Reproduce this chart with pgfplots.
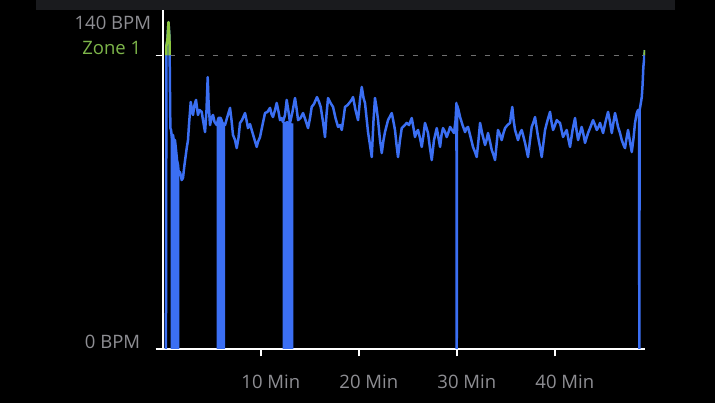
\documentclass[border=0pt]{standalone}
\usepackage{pgfplots}
\pgfplotsset{compat=1.18}
\usepackage{fontspec}
\setmainfont{Open Sans}
\definecolor{hrblue}{HTML}{3B6FF3}
\definecolor{hrgreen}{HTML}{8CC63F}
\definecolor{zonegreen}{HTML}{7DB54A}
\definecolor{txtgray}{HTML}{8E8E93}
\definecolor{topbar}{HTML}{1A1B1E}
\definecolor{dashgray}{HTML}{707070}
\begin{document}
\begin{tikzpicture}[x=1pt,y=1pt]
\fill[black] (0,0) rectangle (715,403);
\fill[topbar] (36,393) rectangle (675,403);
\begin{axis}[
  at={(163pt,54pt)}, anchor=south west,
  scale only axis, width=482.2pt, height=339pt,
  xmin=0, xmax=49.2, ymin=0, ymax=144.26,
  axis x line*=bottom, axis y line*=left,
  axis line style={white, line width=1.5pt, -},
  xtick={10,20,30,40}, xticklabels={},
  ytick={0,125}, yticklabels={},
  tick style={white, line width=1.5pt},
  tick align=outside, major tick length=7.5pt,
]
% Zone 1 reference line
\addplot[dashgray, line width=1.3pt, dash pattern=on 5pt off 9.3pt] coordinates {(0.75,125) (49.1,125)};
% sensor drop-out bands
\addplot[fill=hrblue, draw=none] coordinates {(0.79,0) (0.79,93.6) (0.82,93.2) (0.92,89.8) (1.02,91.1) (1.12,88.1) (1.22,88.9) (1.33,84.7) (1.43,80.4) (1.53,78.3) (1.63,74.0) (1.66,74.2) (1.66,0)} -- cycle;
\addplot[fill=hrblue, draw=none] coordinates {(5.48,0) (5.48,95.3) (5.66,98.3) (5.89,98.3) (6.07,96.2) (6.33,95.3) (6.33,0)} -- cycle;
\addplot[fill=hrblue, draw=none] coordinates {(12.21,0) (12.21,96.8) (12.24,96.6) (12.45,96.6) (12.62,97.0) (12.81,96.9) (12.96,96.2) (13.21,96.0) (13.30,96.0) (13.30,0)} -- cycle;
% heart rate
\addplot[hrblue, line width=2.5pt, line join=round] table {
0.30 0
0.35 129.0
0.45 131.5
0.56 139.1
0.66 132.3
0.75 94.0
0.82 93.2
0.92 89.8
1.02 91.1
1.12 88.1
1.22 88.9
1.33 84.7
1.43 80.4
1.53 78.3
1.63 74.0
1.73 75.3
1.91 71.9
2.04 72.8
2.19 78.3
2.42 85.5
2.55 88.9
2.65 95.3
2.83 105.1
2.96 101.7
3.06 99.6
3.21 103.8
3.37 106.0
3.47 102.6
3.57 99.6
3.72 101.7
3.95 100.9
4.08 97.4
4.29 92.3
4.44 101.7
4.56 115.7
4.66 103.8
4.80 95.3
4.95 98.3
5.10 99.6
5.26 96.6
5.48 95.3
5.66 98.3
5.89 98.3
6.07 96.2
6.33 95.3
6.53 98.3
6.84 102.6
6.99 97.4
7.14 91.1
7.35 88.9
7.52 85.5
7.70 89.8
7.86 96.2
8.06 97.4
8.37 100.4
8.52 97.4
8.67 94.0
8.88 95.7
9.05 93.2
9.29 89.8
9.56 86.0
9.69 88.1
9.90 90.2
10.15 95.3
10.41 100.4
10.66 100.9
10.92 102.6
11.07 100.0
11.22 98.7
11.43 101.7
11.60 104.7
11.79 100.9
11.94 97.4
12.09 98.3
12.24 96.6
12.45 99.6
12.62 106.0
12.81 100.9
12.96 96.2
13.21 100.9
13.47 106.8
13.62 102.6
13.78 97.4
14.03 98.3
14.29 100.4
14.54 97.4
14.80 94.0
15.00 98.3
15.17 103.0
15.41 104.3
15.71 107.2
15.92 105.1
16.09 103.0
16.33 96.6
16.53 90.2
16.68 99.6
16.84 106.8
17.09 104.7
17.35 103.0
17.60 98.3
17.86 94.5
18.06 95.3
18.24 93.2
18.42 98.3
18.57 103.0
18.83 103.8
19.08 105.1
19.24 106.0
19.39 107.2
19.64 101.7
19.90 97.4
20.10 106.0
20.28 111.5
20.46 106.8
20.61 104.7
20.77 98.3
20.92 92.3
21.12 86.8
21.30 81.7
21.48 97.4
21.63 106.8
21.79 102.6
21.94 97.4
22.14 88.9
22.32 83.4
22.50 88.9
22.65 92.3
22.96 97.4
23.34 100.4
23.52 96.6
23.67 93.2
23.83 86.8
23.98 81.7
24.18 88.9
24.36 94.0
24.59 94.9
24.87 96.2
25.10 95.3
25.38 98.3
25.56 94.0
25.71 90.2
25.87 92.3
26.02 93.2
26.22 89.8
26.40 86.0
26.58 91.1
26.73 96.2
26.89 94.0
27.04 91.9
27.24 85.5
27.42 80.4
27.65 88.9
27.93 94.0
28.11 89.8
28.27 86.0
28.42 91.1
28.57 94.0
28.78 92.3
28.95 90.2
29.13 92.3
29.29 94.5
29.49 93.2
29.69 91.9
29.85 97.4
29.94 104.7
29.97 0
30.00 103.8
30.15 101.7
30.31 98.7
30.56 95.3
30.82 92.3
30.97 94.0
31.12 94.5
31.38 90.2
31.63 86.0
31.84 83.8
32.01 81.7
32.19 88.9
32.35 96.2
32.60 91.1
32.86 86.8
33.01 88.9
33.16 91.9
33.37 88.1
33.54 84.7
33.72 82.6
33.88 80.4
34.03 86.8
34.18 93.2
34.39 91.1
34.56 88.9
34.74 91.9
34.90 94.0
35.15 95.3
35.41 96.2
35.51 99.6
35.64 103.0
35.77 97.4
35.92 93.2
36.07 91.1
36.22 88.9
36.43 91.9
36.60 93.2
36.79 90.2
36.94 87.7
37.09 84.7
37.24 81.7
37.45 88.9
37.62 94.5
37.81 96.6
37.96 98.7
38.11 94.5
38.27 90.2
38.47 86.0
38.64 81.7
38.83 88.1
38.98 93.2
39.24 97.4
39.49 100.9
39.64 96.6
39.80 93.2
40.00 95.3
40.17 97.4
40.36 96.6
40.51 96.2
40.66 93.2
40.82 90.2
41.02 91.9
41.19 93.2
41.38 88.9
41.53 86.0
41.79 93.2
42.04 98.3
42.19 93.2
42.35 88.9
42.55 91.9
42.72 94.5
42.91 91.1
43.06 87.7
43.21 89.8
43.37 91.9
43.62 94.5
43.88 97.4
44.08 95.3
44.26 93.2
44.44 94.5
44.59 96.2
44.75 94.0
44.90 91.9
45.15 96.6
45.41 100.9
45.61 96.6
45.79 91.9
45.97 96.6
46.12 100.4
46.28 97.4
46.43 94.5
46.63 91.9
46.81 88.9
46.99 86.8
47.14 85.5
47.30 89.8
47.45 93.2
47.65 88.1
47.83 83.8
48.01 89.8
48.16 96.2
48.34 100.4
48.47 101.7
48.57 100.9
48.60 0
48.63 101.7
48.72 103.8
48.85 107.2
48.93 112.3
49.01 120.0
49.10 123.8
49.18 127.2
};
% portions above Zone 1
\addplot[hrgreen, line width=2.5pt, line join=round] coordinates {(0.348,125) (0.35,129.0) (0.45,131.5) (0.56,139.1) (0.66,132.3) (0.677,125)};
\addplot[hrgreen, line width=2.5pt, line join=round] coordinates {(49.128,125) (49.18,127.2)};
\end{axis}
\fontsize{18.5}{20}\selectfont
\node[txtgray, inner sep=0, anchor=center] at (112.8,380.5) {140 BPM};
\node[zonegreen, inner sep=0, anchor=center] at (111.8,354.7) {Zone 1};
\node[txtgray, inner sep=0, anchor=center] at (112.5,61) {0 BPM};
\node[txtgray, inner sep=0, anchor=center] at (270.8,21) {10 Min};
\node[txtgray, inner sep=0, anchor=center] at (368.8,21) {20 Min};
\node[txtgray, inner sep=0, anchor=center] at (466.8,21) {30 Min};
\node[txtgray, inner sep=0, anchor=center] at (564.8,21) {40 Min};
\end{tikzpicture}
\end{document}
